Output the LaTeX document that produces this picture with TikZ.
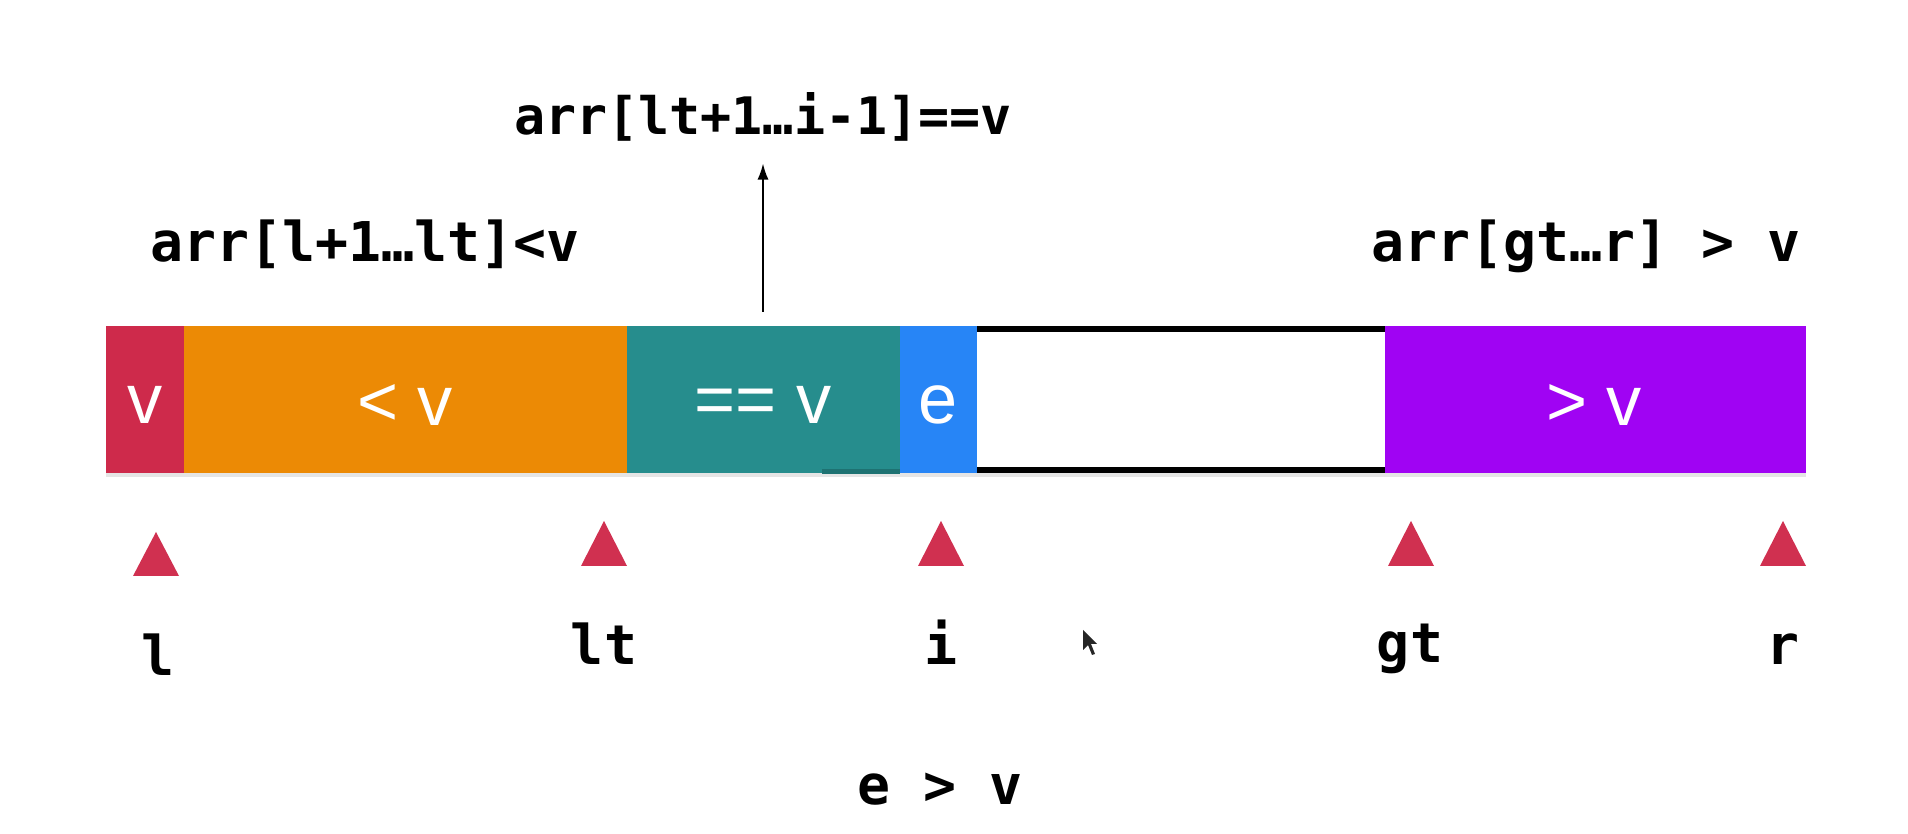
\documentclass[tikz,border=0pt]{standalone}
\usepackage{fontspec}
\setmainfont{Liberation Sans}
\newfontfamily\monofont{DejaVu Sans Mono}
\usetikzlibrary{arrows.meta}
\definecolor{cred}{HTML}{CE2A4B}
\definecolor{ctri}{HTML}{D03050}
\definecolor{corange}{HTML}{EC8A05}
\definecolor{cteal}{HTML}{268D8D}
\definecolor{cteald}{HTML}{1E7272}
\definecolor{cblue}{HTML}{2785F6}
\definecolor{cpurple}{HTML}{A003F3}
\begin{document}
\begin{tikzpicture}[x=0.1mm,y=-0.1mm,
  cell/.style={rectangle, inner sep=0pt, outer sep=0pt, minimum height=14.7mm, anchor=north west},
  celltext/.style={text=white, inner sep=0pt, font=\fontsize{20}{20}\selectfont},
  code/.style={inner sep=0pt, anchor=base, font=\monofont\bfseries\fontsize{15.6}{16}\selectfont},
  ptr/.style={fill=ctri},
  arr/.style={line width=0.17mm, -{Latex[length=1.6mm,width=1.1mm]}}]
\useasboundingbox (0,0) rectangle (1908,834);
\fill[white] (0,0) rectangle (1908,834);
% shadow under the bar
\fill[black!10] (106,473) rectangle (1806,477);
% cells
\node[cell, fill=cred,    minimum width=7.8mm]  (cv)  at (106,326) {};
\node[cell, fill=corange, minimum width=44.3mm] (clt) at (184,326) {};
\node[cell, fill=cteal,   minimum width=27.3mm] (ceq) at (627,326) {};
\node[cell, fill=cblue,   minimum width=7.7mm]  (ce)  at (900,326) {};
\node[cell, fill=white,   minimum width=40.8mm] (cw)  at (977,326) {};
\node[cell, fill=cpurple, minimum width=42.1mm] (cgt) at (1385,326) {};
\fill[cteald] (822,469) rectangle (900,474);
% borders of the empty part
\draw[line width=0.55mm] ([yshift=-0.28mm]cw.north west) -- ([yshift=-0.28mm]cw.north east);
\draw[line width=0.55mm] ([yshift=0.28mm]cw.south west) -- ([yshift=0.28mm]cw.south east);
% cell texts
\node[celltext] (tv)  at (145,405) {v};
\node[celltext] (tlt) at (405,405) {< v};
\node[celltext] (teq) at (763,405) {== v};
\node[celltext] (te)  at (938,405) {e};
\node[celltext] (tgt) at (1594,405) {> v};
% headings
\node[code, font=\monofont\bfseries\fontsize{14.7}{15}\selectfont] (h1) at (763,135) {arr[lt+1…i-1]==v};
\node[code] (h2) at (365,262) {arr[l+1…lt]<v};
\node[code] (h3) at (1586,262) {arr[gt…r] > v};
% arrow
\coordinate (abase) at (763,312);
\draw[arr, shorten >=2.1mm] (abase) -- (h1.south);
% pointers
\fill[ptr] (133,576) -- (156,532) -- (179,576) -- cycle;
\fill[ptr] (581,566) -- (604,521) -- (627,566) -- cycle;
\fill[ptr] (918,566) -- (941,521) -- (964,566) -- cycle;
\fill[ptr] (1388,566) -- (1411,521) -- (1434,566) -- cycle;
\fill[ptr] (1760,566) -- (1783,521) -- (1806,566) -- cycle;
\node[code] (pl)  at (158,676) {l};
\node[code] (plt) at (604,665) {lt};
\node[code] (pi)  at (941,665) {i};
\node[code] (pgt) at (1410,663) {gt};
\node[code] (pr)  at (1783,665) {r};
% condition
\node[code] (cond) at (940,805) {e > v};
% mouse cursor
\fill[black!85] (1083,630) -- (1083,650) -- (1088,645) -- (1092,655) -- (1095,654) -- (1091,644) -- (1097,644) -- cycle;
\end{tikzpicture}
\end{document}
